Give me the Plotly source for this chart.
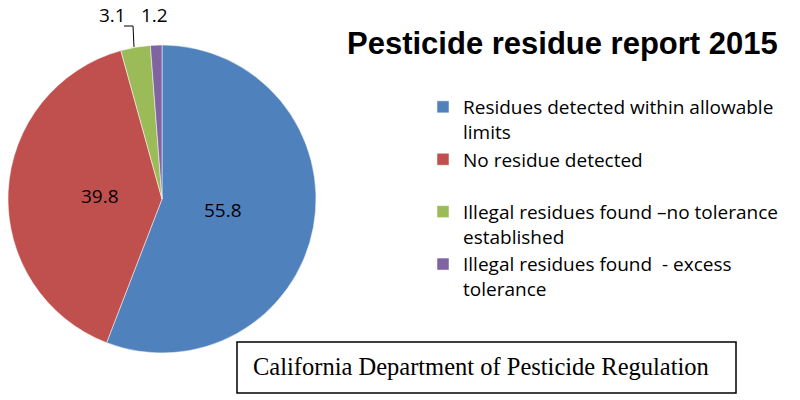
import math
import plotly.graph_objects as go

categories = [
    "Residues detected within allowable<br>limits",
    "No residue detected<br> ",
    "Illegal residues found \u2013no tolerance<br>established",
    "Illegal residues found  - excess<br>tolerance",
]
values = [55.8, 39.8, 3.1, 1.2]
colors = ["#4F81BD", "#C0504D", "#9BBB59", "#8064A2"]
title_text = "Pesticide residue report 2015"
source_text = "California Department of Pesticide Regulation"

W, H = 800, 400
CX, CY, R = 162, 199, 154  # pie geometry in px (domain)

fig = go.Figure()
fig.add_trace(go.Pie(
    labels=categories,
    values=values,
    sort=False,
    direction="clockwise",
    rotation=0,
    marker=dict(colors=colors, line=dict(color="white", width=0.5)),
    textinfo="none",
    domain=dict(x=[(CX - R) / W, (CX + R) / W], y=[1 - (CY + R) / H, 1 - (CY - R) / H]),
    hoverinfo="label+value",
))

label_font = dict(family="Open Sans, Lato, sans-serif", size=19, color="black")

# inside data labels for the large slices, placed along each slice's mid-angle
total = sum(values)
cum = 0.0
for v in values:
    mid = (cum + v / 2) / total * 2 * math.pi
    cum += v
    if v > 10:
        px = CX + 0.4 * R * math.sin(mid)
        py = CY - 0.4 * R * math.cos(mid)
        fig.add_annotation(x=px / W, y=1 - py / H, xref="paper", yref="paper",
                           xanchor="center", yanchor="middle",
                           text=f"{v}", showarrow=False, font=label_font)

# small-slice labels above the pie
fig.add_annotation(x=113 / W, y=1 - 15 / H, xref="paper", yref="paper",
                   xanchor="center", yanchor="middle",
                   text=f"{values[2]}", showarrow=False, font=label_font)
fig.add_annotation(x=154 / W, y=1 - 15 / H, xref="paper", yref="paper",
                   xanchor="center", yanchor="middle",
                   text=f"{values[3]}", showarrow=False, font=label_font)
# leader line for green slice label
fig.add_shape(type="path", xref="paper", yref="paper",
              path=f"M {134/W} {1-47/H} L {133/W} {1-26/H} L {124/W} {1-26/H}",
              line=dict(color="black", width=1))

# title
fig.add_annotation(x=562 / W, y=1 - 43 / H, xref="paper", yref="paper",
                   xanchor="center", yanchor="middle",
                   text=f"<b>{title_text}</b>", showarrow=False,
                   font=dict(family="Liberation Sans, Arial, sans-serif", size=31, color="black"))

# source box
fig.add_shape(type="rect", xref="paper", yref="paper",
              x0=237 / W, x1=736 / W, y0=1 - 393 / H, y1=1 - 342 / H,
              line=dict(color="black", width=1.5), fillcolor="white")
fig.add_annotation(x=481 / W, y=1 - 366 / H, xref="paper", yref="paper",
                   xanchor="center", yanchor="middle",
                   text=source_text, showarrow=False,
                   font=dict(family="Liberation Serif, Times New Roman, serif", size=24.5, color="black"))

fig.update_layout(
    width=W, height=H,
    margin=dict(l=0, r=0, t=0, b=0),
    paper_bgcolor="white", plot_bgcolor="white",
    showlegend=True,
    legend=dict(
        x=423 / W, y=1 - 88 / H, xanchor="left", yanchor="top",
        font=dict(family="Open Sans, Lato, sans-serif", size=19, color="black"),
        valign="top", itemclick=False, itemdoubleclick=False,
        bgcolor="rgba(0,0,0,0)",
    ),
)

fig.write_html("out.html")
